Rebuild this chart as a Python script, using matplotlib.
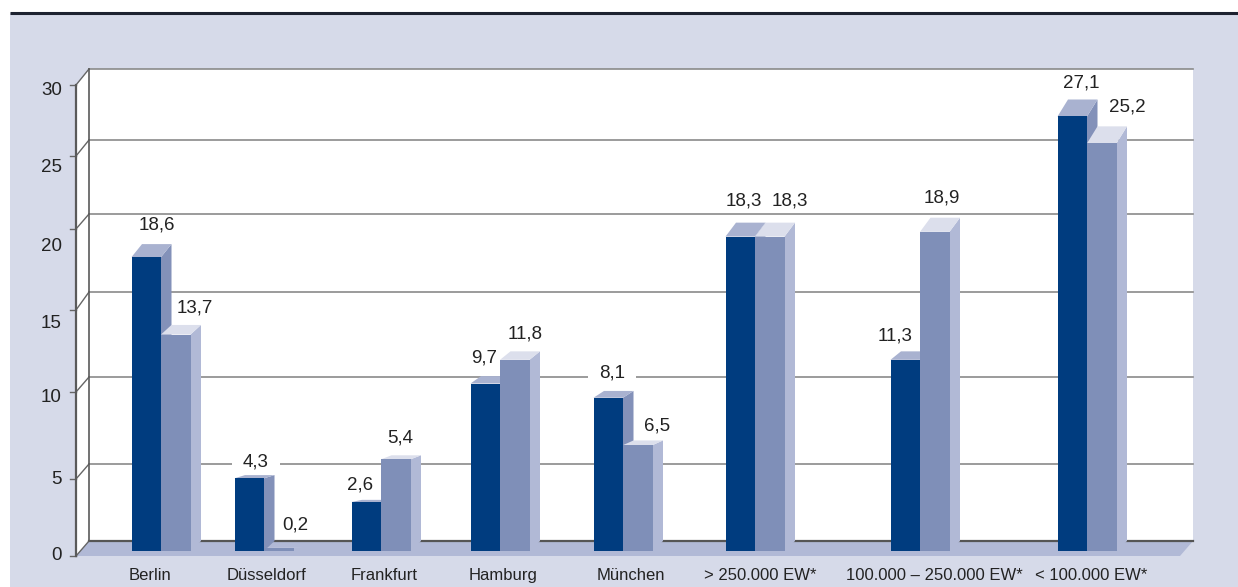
import matplotlib
matplotlib.use("Agg")
import matplotlib.pyplot as plt
from matplotlib import font_manager as fm
from matplotlib.patches import Polygon, Rectangle

# ---- data ----
categories = ["Berlin", "Düsseldorf", "Frankfurt", "Hamburg", "München",
              "> 250.000 EW*", "100.000 – 250.000 EW*", "< 100.000 EW*"]
labels_a = ["18,6", "4,3", "2,6", "9,7", "8,1", "18,3", "11,3", "27,1"]
labels_b = ["13,7", "0,2", "5,4", "11,8", "6,5", "18,3", "18,9", "25,2"]
heights_a = [18.6, 4.6, 3.1, 10.6, 9.7, 19.9, 12.1, 27.5]
heights_b = [13.7, 0.2, 5.8, 12.1, 6.7, 19.9, 20.2, 25.8]
tick_labels = ["0", "5", "10", "15", "20", "25", "30"]

# ---- layout (pixels) ----
W, H = 1238, 587
BASE = 551.0
PX_PER_UNIT = 15.8
centers = [161, 264, 381, 500, 623, 755, 920, 1087]
BAR_W = 29.5
DX = 10.5
label_a_xy = [(157, 225), (256, 462), (360, 485), (484, 358), (612, 373), (744, 201), (895, 336), (1081, 83)]
label_b_xy = [(195, 308), (295, 525), (400, 438), (525, 334), (657, 426), (790, 201), (942, 198), (1127, 107)]
halo_labels = {"4,3", "8,1"}
cat_x = [150, 266, 384, 503, 631, 760, 934, 1091]
front_ticks = [556, 479, 392, 310, 229, 156, 85]
back_grid = [541, 464, 377, 292, 214, 140, 69]
tick_label_y = [555, 479, 398, 323, 247, 168, 91]

C_PANEL = "#d6dae9"
C_DARK, C_DARK_SIDE, C_DARK_TOP = "#003c7f", "#8391b9", "#a9b2d0"
C_LIGHT, C_LIGHT_SIDE, C_LIGHT_TOP = "#7f8fb8", "#b1b9d6", "#dcdfec"
C_FLOOR = "#b1b9d6"
C_GRID = "#8a8a8a"
C_TEXT = "#222222"

names = {f.name for f in fm.fontManager.ttflist}
FONT = "Liberation Sans Narrow" if "Liberation Sans Narrow" in names else "Liberation Sans"
CAT_SIZE = 13 if FONT.endswith("Narrow") else 12


def Y(p):
    """pixel row -> value on the axes' scale"""
    return (BASE - p) / PX_PER_UNIT


fig = plt.figure(figsize=(W / 100, H / 100), dpi=100, facecolor="white")
ax = fig.add_axes([0, 0, 1, 1])
ax.set_xlim(0, W)
ax.set_ylim(Y(H), Y(0))
ax.axis("off")

# panel + top rule
ax.add_patch(Rectangle((10, Y(H)), W - 10, Y(13) - Y(H), fc=C_PANEL, ec="none", zorder=0))
ax.plot([10, W], [Y(13), Y(13)], color="#1d2230", lw=2.2, zorder=1, solid_capstyle="butt")

# walls and floor
ax.add_patch(Rectangle((89, Y(541)), 1104, Y(69) - Y(541), fc="white", ec="none", zorder=1))
ax.add_patch(Polygon([(76, Y(556)), (89, Y(541)), (89, Y(69)), (76, Y(85))], fc="white", ec="none", zorder=1))
ax.add_patch(Polygon([(76, Y(556)), (89, Y(541)), (1193, Y(541)), (1180, Y(556))], fc=C_FLOOR, ec="none", zorder=2))

# grid, wall edges, ticks
for f, b in zip(front_ticks, back_grid):
    c, lw = ("#555555", 1.6) if b == 541 else (C_GRID, 1.2)
    ax.plot([89, 1193], [Y(b), Y(b)], color=c, lw=lw, zorder=2)
    ax.plot([76, 89], [Y(f), Y(b)], color="#666666", lw=1.0, zorder=3)
    ax.plot([70, 76], [Y(f), Y(f)], color="#666666", lw=1.0, zorder=3)
ax.plot([76, 76], [Y(556), Y(85)], color="#5a5a5a", lw=1.6, zorder=3)
ax.plot([89, 89], [Y(541), Y(69)], color="#5a5a5a", lw=1.2, zorder=3)

for t, py in zip(tick_labels, tick_label_y):
    ax.text(62, Y(py), t, ha="right", va="center", fontsize=13.5, family=FONT, color=C_TEXT, zorder=6)


def bar3d(x0, h, front, side, top, z):
    dy = min(17, 0.7 * h) / PX_PER_UNIT
    x1 = x0 + BAR_W
    foot = min(10 / PX_PER_UNIT, h + dy)
    ax.add_patch(Polygon([(x1, 0), (x1 + DX, foot), (x1 + DX, h + dy), (x1, h)], fc=side, ec="none", zorder=z))
    ax.add_patch(Polygon([(x0, h), (x0 + DX, h + dy), (x1 + DX, h + dy), (x1, h)], fc=top, ec="none", zorder=z))
    ax.bar(x0, h, width=BAR_W, align="edge", color=front, linewidth=0, zorder=z + 0.5)


for i, c in enumerate(centers):
    bar3d(c - BAR_W, heights_a[i], C_DARK, C_DARK_SIDE, C_DARK_TOP, 4 + i)
    bar3d(c, heights_b[i], C_LIGHT, C_LIGHT_SIDE, C_LIGHT_TOP, 4.6 + i)

for texts, xy in ((labels_a, label_a_xy), (labels_b, label_b_xy)):
    for t, (px, py) in zip(texts, xy):
        if t in halo_labels:
            ax.text(px, Y(py), t, ha="center", va="center", fontsize=13.5, family=FONT, color=C_TEXT,
                    bbox=dict(fc="white", ec="none", pad=8), zorder=3.5)
        else:
            ax.text(px, Y(py), t, ha="center", va="center", fontsize=13.5, family=FONT, color=C_TEXT, zorder=20)

for t, px in zip(categories, cat_x):
    ax.text(px, Y(580), t, ha="center", va="baseline", fontsize=CAT_SIZE, family=FONT, color=C_TEXT, zorder=20)

fig.savefig("out.png", dpi=100, facecolor="white")
